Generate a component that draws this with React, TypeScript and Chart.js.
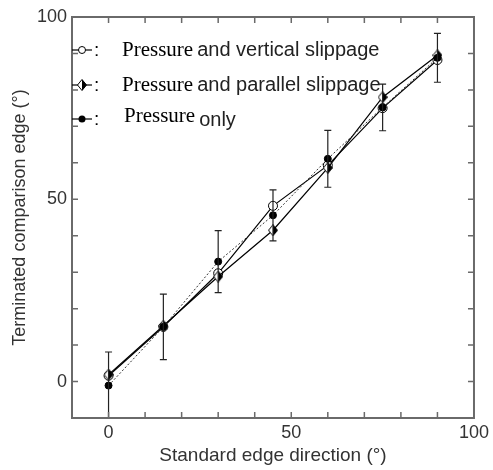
import React, { useEffect, useRef } from 'react';
import { Chart, registerables } from 'chart.js';
Chart.register(...registerables);

const xValues = [0, 15, 30, 45, 60, 75, 90];
const verticalSlippage = [1.6, 15, 29.7, 48.2, 59.3, 75, 88.2];
const parallelSlippage = [1.9, 15.3, 28.8, 41.5, 58.6, 78, 89.5];
const pressureOnly = [-1.1, 15, 32.9, 45.6, 61.1, 75.2, 88.8];
const pressureOnlyErr = [9.2, 9, 8.5, 7, 7.8, 6.4, 6.7];
const majorTicks = [0, 50, 100];
const minorStep = 10;
const legendPrefix = ['Pressure', 'Pressure', 'Pressure'];
const legendSuffix = ['and vertical slippage', 'and parallel slippage', 'only'];
const xTitle = 'Standard edge direction (°)';
const yTitle = 'Terminated comparison edge (°)';

const SANS = '"Liberation Sans", Arial, sans-serif';
const SERIF = '"Liberation Serif", "Times New Roman", serif';

function makeDiamond(): HTMLCanvasElement {
  const c = document.createElement('canvas');
  c.width = 10;
  c.height = 12;
  const g = c.getContext('2d')!;
  g.beginPath();
  g.moveTo(5, 0.5); g.lineTo(9.5, 6); g.lineTo(5, 11.5); g.lineTo(0.5, 6); g.closePath();
  g.fillStyle = '#fff';
  g.fill();
  g.beginPath();
  g.moveTo(5, 0.5); g.lineTo(9.5, 6); g.lineTo(5, 11.5); g.closePath();
  g.fillStyle = '#000';
  g.fill();
  g.beginPath();
  g.moveTo(5, 0.5); g.lineTo(9.5, 6); g.lineTo(5, 11.5); g.lineTo(0.5, 6); g.closePath();
  g.strokeStyle = '#000';
  g.lineWidth = 1;
  g.stroke();
  return c;
}

const framePlugin = {
  id: 'frame',
  afterDraw(chart: any) {
    const { ctx, chartArea: a, scales } = chart;
    const xs = scales.x, ys = scales.y;
    ctx.save();
    ctx.strokeStyle = '#6a6a6a';
    ctx.lineWidth = 2;
    ctx.strokeRect(a.left, a.top, a.right - a.left, a.bottom - a.top);
    ctx.lineWidth = 1.5;
    const tl = 6;
    for (let v = xs.min + minorStep; v < xs.max; v += minorStep) {
      const px = xs.getPixelForValue(v);
      ctx.beginPath();
      ctx.moveTo(px, a.bottom); ctx.lineTo(px, a.bottom - tl);
      ctx.moveTo(px, a.top); ctx.lineTo(px, a.top + tl);
      ctx.stroke();
    }
    for (let v = ys.min + minorStep; v < ys.max; v += minorStep) {
      const py = ys.getPixelForValue(v);
      ctx.beginPath();
      ctx.moveTo(a.left, py); ctx.lineTo(a.left + tl, py);
      ctx.moveTo(a.right, py); ctx.lineTo(a.right - tl, py);
      ctx.stroke();
    }
    ctx.restore();
  },
};

const errorBarPlugin = {
  id: 'errbars',
  afterDatasetsDraw(chart: any) {
    const { ctx, chartArea: a, scales } = chart;
    const xs = scales.x, ys = scales.y;
    ctx.save();
    ctx.beginPath();
    ctx.rect(a.left, a.top, a.right - a.left, a.bottom - a.top);
    ctx.clip();
    ctx.strokeStyle = '#222';
    ctx.lineWidth = 1.2;
    xValues.forEach((xv, i) => {
      const px = xs.getPixelForValue(xv);
      const top = ys.getPixelForValue(pressureOnly[i] + pressureOnlyErr[i]);
      const bot = ys.getPixelForValue(pressureOnly[i] - pressureOnlyErr[i]);
      ctx.beginPath();
      ctx.moveTo(px, top); ctx.lineTo(px, bot);
      ctx.moveTo(px - 3.5, top); ctx.lineTo(px + 3.5, top);
      ctx.moveTo(px - 3.5, bot); ctx.lineTo(px + 3.5, bot);
      ctx.stroke();
    });
    ctx.restore();
  },
};

function makeLegendPlugin(diamond: HTMLCanvasElement) {
  return {
    id: 'customLegend',
    afterDraw(chart: any) {
      const { ctx } = chart;
      const rows = [50, 85, 119];
      ctx.save();
      rows.forEach((y, i) => {
        ctx.strokeStyle = '#000';
        ctx.lineWidth = 1.2;
        ctx.beginPath();
        ctx.moveTo(72, y); ctx.lineTo(92, y);
        ctx.stroke();
        if (i === 0) {
          ctx.beginPath();
          ctx.arc(82, y, 3.5, 0, Math.PI * 2);
          ctx.fillStyle = '#fff';
          ctx.fill();
          ctx.lineWidth = 1;
          ctx.stroke();
        } else if (i === 1) {
          ctx.drawImage(diamond, 77, y - 6);
        } else {
          ctx.beginPath();
          ctx.arc(82, y, 3.5, 0, Math.PI * 2);
          ctx.fillStyle = '#000';
          ctx.fill();
        }
        ctx.fillStyle = '#000';
        ctx.textBaseline = 'middle';
        ctx.font = `19px ${SANS}`;
        ctx.fillText(':', 94, y + 1);
        ctx.font = `21px ${SERIF}`;
        const px = i === 2 ? 124 : 122;
        const py = i === 2 ? y - 3 : y;
        ctx.fillText(legendPrefix[i], px, py);
        const w = ctx.measureText(legendPrefix[i]).width;
        ctx.font = `20px ${SANS}`;
        ctx.fillStyle = '#222';
        ctx.fillText(legendSuffix[i], px + w + 4, i === 2 ? y + 1 : y);
      });
      ctx.restore();
    },
  };
}

export default function App() {
  const ref = useRef<HTMLCanvasElement>(null);
  useEffect(() => {
    const diamond = makeDiamond();
    const toPts = (ys: number[]) => xValues.map((x, i) => ({ x, y: ys[i] }));
    const chart = new Chart(ref.current!, {
      type: 'scatter',
      data: {
        datasets: [
          {
            label: 'Pressure only',
            data: toPts(pressureOnly),
            showLine: true,
            borderColor: '#333',
            borderWidth: 1,
            borderDash: [2, 2],
            pointStyle: 'circle',
            pointRadius: 3.5,
            pointBackgroundColor: '#000',
            pointBorderColor: '#000',
            pointBorderWidth: 1,
          },
          {
            label: 'Pressure and parallel slippage',
            data: toPts(parallelSlippage),
            showLine: true,
            borderColor: '#000',
            borderWidth: 1.2,
            pointStyle: diamond as any,
            pointRadius: 5,
          },
          {
            label: 'Pressure and vertical slippage',
            data: toPts(verticalSlippage),
            showLine: true,
            borderColor: '#000',
            borderWidth: 1.2,
            pointStyle: 'circle',
            pointRadius: 4.5,
            pointBackgroundColor: '#fff',
            pointBorderColor: '#000',
            pointBorderWidth: 1,
          },
        ],
      },
      options: {
        animation: false,
        responsive: false,
        events: [],
        layout: { padding: { top: 17, right: 19, left: 0, bottom: 0 } },
        plugins: { legend: { display: false }, tooltip: { enabled: false } },
        scales: {
          x: {
            type: 'linear',
            min: -10,
            max: 100,
            afterFit: (s: any) => { s.height = 52; },
            grid: { display: false, drawTicks: false },
            border: { display: false },
            ticks: {
              stepSize: minorStep,
              autoSkip: false,
              maxRotation: 0,
              padding: 4,
              color: '#333',
              font: { family: SANS, size: 18 },
              callback: (v: any) => (majorTicks.includes(Number(v)) ? String(v) : ''),
            },
            title: {
              display: true,
              text: xTitle,
              color: '#333',
              font: { family: SANS, size: 19 },
              padding: { top: 0, bottom: 3 },
            },
          },
          y: {
            type: 'linear',
            min: -10,
            max: 100,
            afterFit: (s: any) => { s.width = 72; },
            grid: { display: false, drawTicks: false },
            border: { display: false },
            ticks: {
              stepSize: minorStep,
              autoSkip: false,
              padding: 5,
              color: '#333',
              font: { family: SANS, size: 18 },
              callback: (v: any) => (majorTicks.includes(Number(v)) ? String(v) : ''),
            },
            title: {
              display: true,
              text: yTitle,
              color: '#333',
              font: { family: SANS, size: 18 },
              padding: { top: 9, bottom: 0 },
            },
          },
        },
      },
      plugins: [errorBarPlugin, framePlugin, makeLegendPlugin(diamond)],
    });
    return () => chart.destroy();
  }, []);
  return (
    <div style={{ position: 'absolute', left: 0, top: 0, width: 493, height: 470, background: '#fff' }}>
      <canvas ref={ref} width={493} height={470} style={{ display: 'block', width: 493, height: 470 }} />
    </div>
  );
}
